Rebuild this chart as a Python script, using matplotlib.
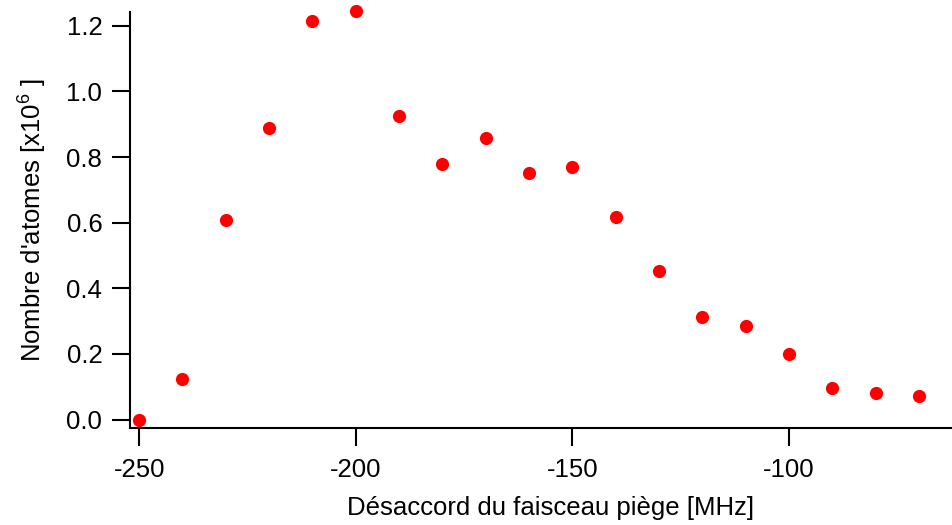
import matplotlib
matplotlib.use("Agg")
import matplotlib.pyplot as plt

# detuning of the trap beam [MHz] and atom number [x1e6]
detuning = [-250, -240, -230, -220, -210, -200, -190, -180, -170, -160,
            -150, -140, -130, -120, -110, -100, -90, -80, -70]
atoms = [0.0, 0.123, 0.607, 0.889, 1.214, 1.245, 0.924, 0.778, 0.858, 0.752,
         0.771, 0.618, 0.454, 0.312, 0.284, 0.199, 0.096, 0.082, 0.071]

x_ticks = [-250, -200, -150, -100]
y_ticks = [0.0, 0.2, 0.4, 0.6, 0.8, 1.0, 1.2]

plt.rcParams['font.family'] = ['Liberation Sans', 'DejaVu Sans']
plt.rcParams['mathtext.fontset'] = 'custom'
plt.rcParams['mathtext.rm'] = 'Liberation Sans'
plt.rcParams['mathtext.it'] = 'Liberation Sans'

fig = plt.figure(figsize=(9.52, 5.25), dpi=100)
ax = fig.add_axes([0.1366, 0.1853, 0.8634, 0.7917])

ax.plot(detuning, atoms, 'o', color='#ff0000', ms=9.5, mec='none', clip_on=False)

ax.set_xlim(-252.1, -62.4)
ax.set_ylim(-0.025, 1.242)
ax.set_xticks(x_ticks)
ax.set_yticks(y_ticks)
ax.set_xticklabels([str(v) for v in x_ticks])
ax.set_yticklabels([f"{v:.1f}" for v in y_ticks])

for side in ['top', 'right']:
    ax.spines[side].set_visible(False)
for side in ['left', 'bottom']:
    ax.spines[side].set_linewidth(1.5)

ax.tick_params(direction='out', length=13, width=1.5, labelsize=18.5, pad=7)
ax.tick_params(axis='x', pad=9)

ax.set_xlabel("Désaccord du faisceau piège [MHz]", fontsize=18.5)
ax.set_ylabel("Nombre d'atomes [x10$^{6}$ ]", fontsize=18.5)
ax.xaxis.set_label_coords(0.5116, -0.165)
ax.yaxis.set_label_coords(-0.099, 0.5)

fig.savefig("out.png", dpi=100)
